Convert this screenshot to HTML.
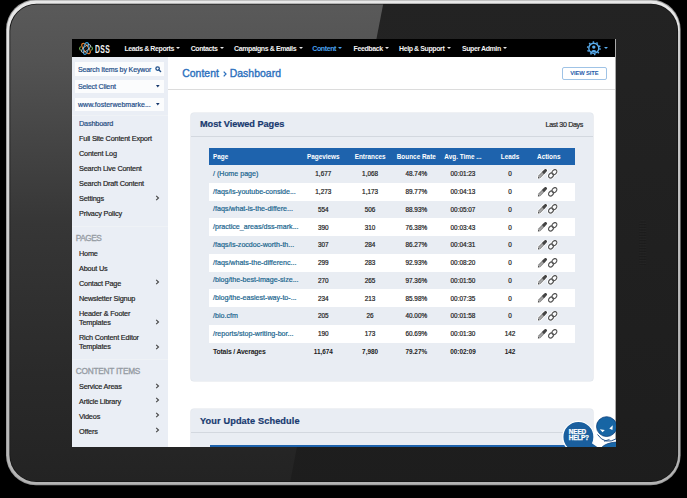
<!DOCTYPE html>
<html><head><meta charset="utf-8">
<style>
*{margin:0;padding:0;box-sizing:border-box}
html,body{width:687px;height:498px;overflow:hidden;background:#000}
body{position:relative;font-family:"Liberation Sans",sans-serif}
.abs{position:absolute}
#bez{position:absolute;left:0;top:0}
#screen{position:absolute;left:72px;top:39px;width:544px;height:408px;background:#fff;overflow:hidden}
#nav{position:absolute;left:0;top:0;width:544px;height:18px;background:#000}
.nt{position:absolute;top:1px;height:18px;line-height:18px;font-size:7px;font-weight:bold;color:#f2f2f2;white-space:nowrap;letter-spacing:-0.4px}
.nt i{display:inline-block;vertical-align:top;margin-top:7.2px;margin-left:2.4px;width:0;height:0;border-left:2px solid transparent;border-right:2px solid transparent;border-top:2.6px solid #e6e6e6}
.car{position:absolute;width:0;height:0;border-left:1.6px solid transparent;border-right:1.6px solid transparent;border-top:2px solid #ddd}
#side{position:absolute;left:0;top:18px;width:96px;height:390px;background:#eaeef5}
.box{position:absolute;left:3px;width:88.6px;background:#fbfcfd}
.bt{position:absolute;left:3px;top:0.5px;font-size:7px;font-weight:normal;color:#1f4f8a;white-space:nowrap;letter-spacing:-0.12px;-webkit-text-stroke:0.2px #1f4f8a}
.tri{position:absolute;width:0;height:0;border-left:1.7px solid transparent;border-right:1.7px solid transparent;border-top:2.5px solid #14366b}
.si{position:absolute;left:7px;font-size:7.3px;font-weight:normal;color:#222;white-space:nowrap;line-height:8px;letter-spacing:-0.18px;-webkit-text-stroke:0.18px #222;margin-top:0.5px}
.sh{position:absolute;left:3.8px;font-size:8.3px;font-weight:normal;color:#959ba3;white-space:nowrap;line-height:9px;letter-spacing:-0.5px;-webkit-text-stroke:0.3px #959ba3}
.chev{position:absolute;left:83.4px}
.sep{position:absolute;left:0;width:96px;height:1px;background:#eff2f6}
#hdr{position:absolute;left:96px;top:18px;width:447px;height:33px;background:#fff;border-bottom:1px solid #dcdcdc}
.panel{position:absolute;left:119px;width:402px;background:#e9edf3;border-radius:3px;box-shadow:0 0 0 0.6px #dfe3e9}
.ph{position:absolute;left:9px;font-size:9.2px;font-weight:bold;color:#183a70;white-space:nowrap;line-height:10px;-webkit-text-stroke:0.2px #183a70;letter-spacing:-0.05px}
table{position:absolute;border-collapse:collapse;table-layout:fixed}
td,th{height:17.75px;padding:0;font-size:6.4px;white-space:nowrap;text-align:center;color:#222;overflow:hidden}
th{height:17px;color:#fff;font-weight:bold;background:#1e63ad}
td.l,th.l{text-align:left;padding-left:4px}
td.l{color:#1b668f;font-size:7.1px}
td{-webkit-text-stroke:0.2px currentColor}
tr.t td{-webkit-text-stroke:0}
tr.w td{background:#fff}
tr.t td{font-weight:bold}
.ttl{font-size:10.4px;font-weight:normal;color:#2a6fbd;white-space:nowrap;line-height:13px;letter-spacing:0.05px;-webkit-text-stroke:0.35px #2a6fbd}
</style></head><body>
<svg id="bez" width="687" height="498" viewBox="0 0 687 498">
  <defs>
    <linearGradient id="glare" x1="0" y1="0" x2="0" y2="1">
      <stop offset="0" stop-color="#5a5a5a"/>
      <stop offset="0.12" stop-color="#535353"/>
      <stop offset="0.45" stop-color="#363636"/>
      <stop offset="0.75" stop-color="#2a2a2a"/>
      <stop offset="1" stop-color="#222"/>
    </linearGradient>
    <linearGradient id="dark" x1="0" y1="0" x2="0" y2="1">
      <stop offset="0" stop-color="#232323"/>
      <stop offset="1" stop-color="#1d1d1d"/>
    </linearGradient>
    <linearGradient id="rim" x1="0" y1="0" x2="0" y2="1"><stop offset="0" stop-color="#e8e8e8"/><stop offset="0.5" stop-color="#cdcdcd"/><stop offset="1" stop-color="#b4b4b4"/></linearGradient>
    <clipPath id="inner"><rect x="10.3" y="4.6" width="667" height="476.6" rx="26.5"/></clipPath>
    <pattern id="dots" width="1.6" height="1.6" patternUnits="userSpaceOnUse"><rect width="1.6" height="1.6" fill="#0c0c0c"/><circle cx="0.8" cy="0.8" r="0.5" fill="#555"/></pattern>
  </defs>
  <rect x="6" y="-0.6" width="674.6" height="485.8" rx="30" fill="#9a9a9a"/>
  <rect x="6.9" y="0.6" width="672.8" height="483.6" rx="29" fill="url(#rim)"/>
  <rect x="9.4" y="3.7" width="668.7" height="478.3" rx="27.2" fill="#141414"/>
  <g clip-path="url(#inner)">
    <rect x="0" y="0" width="687" height="498" fill="url(#dark)"/>
    <polygon points="0,0 384,0 287,498 0,498" fill="url(#glare)"/>
  </g>
  <rect x="639.2" y="220" width="7" height="46.4" rx="3.5" fill="url(#dots)"/>
</svg>
<svg width="0" height="0" style="position:absolute">
  <defs>
    <symbol id="ic" viewBox="0 0 22 10">
      <g stroke="#fff" stroke-opacity="0.85" fill="none" stroke-linecap="round">
        <path d="M1.4 9 L8.6 1.4" stroke-width="4.8"/>
        <path d="M13.6 6.8 L17.6 2.8" stroke-width="7"/>
      </g>
      <path d="M2 8.2 L7.4 2.6" stroke="#a6a6a6" stroke-width="3.2"/>
      <path d="M2.9 8.9 L7.6 4.1 M1.3 7.4 L6 2.6" stroke="#666" stroke-width="0.5"/>
      <path d="M6.9 3.1 L8.5 1.5" stroke="#444" stroke-width="3" stroke-linecap="round"/>
      <path d="M0.9 9.6 L1.2 7.6 L2.9 9.3 Z" fill="#444"/>
      <ellipse cx="14" cy="6.5" rx="2.7" ry="2.1" transform="rotate(-45 14 6.5)" fill="none" stroke="#555" stroke-width="1.2"/>
      <ellipse cx="17.4" cy="3.1" rx="2.7" ry="2.1" transform="rotate(-45 17.4 3.1)" fill="none" stroke="#555" stroke-width="1.2"/>
    </symbol>
  </defs>
</svg>

<div id="screen">
  <div id="nav">
    <svg class="abs" style="left:6.5px;top:3px" width="14" height="13" viewBox="0 0 14 13">
      <path d="M1.6 4.4 L0.4 6.5 L1.6 8.6" fill="none" stroke="#6aa84f" stroke-width="1.1"/>
      <path d="M12.4 4.4 L13.6 6.5 L12.4 8.6" fill="none" stroke="#6aa84f" stroke-width="1.1"/>
      <ellipse cx="7" cy="6.5" rx="6" ry="2.5" fill="none" stroke="#e07a2a" stroke-width="1.3" transform="rotate(52 7 6.5)"/>
      <ellipse cx="7" cy="6.5" rx="6" ry="2.4" fill="none" stroke="#3a9bd8" stroke-width="1.1" transform="rotate(-78 7 6.5)"/>
      <ellipse cx="7" cy="6.5" rx="5.6" ry="2.2" fill="none" stroke="#c4d2dc" stroke-width="0.8" transform="rotate(-38 7 6.5)"/>
      <circle cx="7" cy="6.5" r="1.2" fill="#0d1b2a"/>
    </svg>
    <div class="nt" style="left:23px;font-size:11px;transform-origin:0 50%;transform:scaleX(0.62);letter-spacing:0.6px">DSS</div>
    <div class="nt" style="left:52.4px">Leads &amp; Reports<i></i></div>
    <div class="nt" style="left:118.7px">Contacts<i></i></div>
    <div class="nt" style="left:162.1px">Campaigns &amp; Emails<i></i></div>
    <div class="nt" style="left:240.3px;color:#4aa3f0">Content<i style="border-top-color:#4aa3f0"></i></div>
    <div class="nt" style="left:281.6px">Feedback<i></i></div>
    <div class="nt" style="left:327px">Help &amp; Support<i></i></div>
    <div class="nt" style="left:389.9px">Super Admin<i></i></div>
    <svg class="abs" style="left:514px;top:2.4px" width="16" height="16" viewBox="0 0 16 16">
      <circle cx="7.8" cy="7.3" r="6.2" fill="none" stroke="#5aaef0" stroke-width="1.5" stroke-dasharray="1.5 2.4"/>
      <circle cx="7.8" cy="7.3" r="5" fill="none" stroke="#5aaef0" stroke-width="1.4"/>
      <circle cx="7.8" cy="6.1" r="1.7" fill="#5aaef0"/>
      <path d="M4.9 10.4 Q7.8 7.6 10.7 10.4 Q7.8 11.6 4.9 10.4 Z" fill="#5aaef0"/>
    </svg>
    <div class="car" style="left:532px;top:8px;border-left:2px solid transparent;border-right:2px solid transparent;border-top:2.6px solid #5aaef0"></div>
  </div>
  <div class="abs" style="left:543px;top:0;width:1px;height:408px;background:#a9a9a9"></div>

  <div id="side">
    <div class="box" style="top:5px;height:13.7px"><div class="bt" style="line-height:13.7px">Search Items by Keywor</div>
      <svg class="abs" style="left:80px;top:4.3px" width="7" height="7" viewBox="0 0 7 7"><circle cx="2.6" cy="2.6" r="1.75" fill="none" stroke="#1f4f8a" stroke-width="1.25"/><path d="M3.9 3.9 L5.6 5.6" stroke="#1f4f8a" stroke-width="1.4" stroke-linecap="round"/></svg>
    </div>
    <div class="box" style="top:22.7px;height:13.3px"><div class="bt" style="line-height:13.3px">Select Client</div><svg class="abs" style="left:81.3px;top:5.3px" width="4" height="3" viewBox="0 0 4 3"><path d="M0 0 H3.6 L1.8 2.6 Z" fill="#14366b"/></svg></div>
    <div class="box" style="top:40.8px;height:13px"><div class="bt" style="line-height:13px;letter-spacing:0.02px">www.fosterwebmarke...</div><svg class="abs" style="left:81.3px;top:5.1px" width="4" height="3" viewBox="0 0 4 3"><path d="M0 0 H3.6 L1.8 2.6 Z" fill="#14366b"/></svg></div>
    <div class="sep" style="top:58px"></div>
    <div class="si" style="top:62.5px;color:#2163b8">Dashboard</div>
    <div class="si" style="top:77.5px">Full Site Content Export</div>
    <div class="si" style="top:92.5px">Content Log</div>
    <div class="si" style="top:107.5px">Search Live Content</div>
    <div class="si" style="top:122.5px">Search Draft Content</div>
    <div class="si" style="top:137.5px">Settings</div><svg class="chev" style="top:137.6px" width="5" height="6" viewBox="0 0 5 6"><path d="M1.2 0.8 L3.5 3 L1.2 5.2" fill="none" stroke="#444" stroke-width="1.1"/></svg>
    <div class="si" style="top:152.5px">Privacy Policy</div>
    <div class="sep" style="top:168.7px"></div>
    <div class="sh" style="top:177px">PAGES</div>
    <div class="si" style="top:192px">Home</div>
    <div class="si" style="top:207px">About Us</div>
    <div class="si" style="top:222px">Contact Page</div><svg class="chev" style="top:222.1px" width="5" height="6" viewBox="0 0 5 6"><path d="M1.2 0.8 L3.5 3 L1.2 5.2" fill="none" stroke="#444" stroke-width="1.1"/></svg>
    <div class="si" style="top:237px">Newsletter Signup</div>
    <div class="si" style="top:252px">Header &amp; Footer</div>
    <div class="si" style="top:261.5px">Templates</div><svg class="chev" style="top:261.6px" width="5" height="6" viewBox="0 0 5 6"><path d="M1.2 0.8 L3.5 3 L1.2 5.2" fill="none" stroke="#444" stroke-width="1.1"/></svg>
    <div class="si" style="top:276.2px">Rich Content Editor</div>
    <div class="si" style="top:285.9px">Templates</div><svg class="chev" style="top:286.5px" width="5" height="6" viewBox="0 0 5 6"><path d="M1.2 0.8 L3.5 3 L1.2 5.2" fill="none" stroke="#444" stroke-width="1.1"/></svg>
    <div class="sep" style="top:302.4px"></div>
    <div class="sh" style="top:310.2px;letter-spacing:-0.25px">CONTENT ITEMS</div>
    <div class="si" style="top:325.4px">Service Areas</div><svg class="chev" style="top:325.5px" width="5" height="6" viewBox="0 0 5 6"><path d="M1.2 0.8 L3.5 3 L1.2 5.2" fill="none" stroke="#444" stroke-width="1.1"/></svg>
    <div class="si" style="top:340.3px">Article Library</div><svg class="chev" style="top:340.4px" width="5" height="6" viewBox="0 0 5 6"><path d="M1.2 0.8 L3.5 3 L1.2 5.2" fill="none" stroke="#444" stroke-width="1.1"/></svg>
    <div class="si" style="top:355.2px">Videos</div><svg class="chev" style="top:355.3px" width="5" height="6" viewBox="0 0 5 6"><path d="M1.2 0.8 L3.5 3 L1.2 5.2" fill="none" stroke="#444" stroke-width="1.1"/></svg>
    <div class="si" style="top:370.2px">Offers</div><svg class="chev" style="top:370.3px" width="5" height="6" viewBox="0 0 5 6"><path d="M1.2 0.8 L3.5 3 L1.2 5.2" fill="none" stroke="#444" stroke-width="1.1"/></svg>
  </div>

  <div id="hdr"></div>
  <div class="abs ttl" style="left:110.2px;top:28px">Content</div><svg class="abs" style="left:151px;top:31.6px" width="4" height="6" viewBox="0 0 4 6"><path d="M0.7 0.6 L3 3 L0.7 5.4" fill="none" stroke="#2a6fbd" stroke-width="1.25"/></svg><div class="abs ttl" style="left:157.7px;top:28px">Dashboard</div>
  <div class="abs" style="left:490px;top:28px;width:44.8px;height:13.2px;border:1px solid #9fc3e6;border-radius:2px;font-size:5.8px;font-weight:bold;color:#1d5aa8;text-align:center;line-height:11.4px;letter-spacing:-0.12px">VIEW SITE</div>

  <div class="panel" style="top:74.2px;height:268.2px">
    <div class="abs" style="left:0;top:22.8px;width:402px;height:1px;background:#d3d8df"></div>
    <div class="ph" style="top:6.3px">Most Viewed Pages</div>
    <div class="abs" style="left:354.5px;top:7.6px;font-size:7.1px;font-weight:normal;color:#2a2a2a;white-space:nowrap;letter-spacing:-0.32px;-webkit-text-stroke:0.2px #2a2a2a">Last 30 Days</div>
  </div>
  <table style="left:137px;top:109.1px;width:365.5px">
    <colgroup><col style="width:91px"><col style="width:46.6px"><col style="width:47px"><col style="width:45.4px"><col style="width:48px"><col style="width:46px"><col style="width:41.5px"></colgroup>
    <tr><th class="l">Page</th><th>Pageviews</th><th>Entrances</th><th>Bounce Rate</th><th>Avg. Time ...</th><th>Leads</th><th style="padding-right:10px">Actions</th></tr>
    <tr><td class="l">/ (Home page)</td><td>1,677</td><td>1,068</td><td>48.74%</td><td>00:01:23</td><td>0</td><td class="ic"><svg width="22" height="10" style="display:block;margin-left:4px"><use href="#ic"/></svg></td></tr>
    <tr class="w"><td class="l">/faqs/is-youtube-conside...</td><td>1,273</td><td>1,173</td><td>89.77%</td><td>00:04:13</td><td>0</td><td class="ic"><svg width="22" height="10" style="display:block;margin-left:4px"><use href="#ic"/></svg></td></tr>
    <tr><td class="l">/faqs/what-is-the-differe...</td><td>554</td><td>506</td><td>88.93%</td><td>00:05:07</td><td>0</td><td class="ic"><svg width="22" height="10" style="display:block;margin-left:4px"><use href="#ic"/></svg></td></tr>
    <tr class="w"><td class="l">/practice_areas/dss-mark...</td><td>390</td><td>310</td><td>76.38%</td><td>00:03:43</td><td>0</td><td class="ic"><svg width="22" height="10" style="display:block;margin-left:4px"><use href="#ic"/></svg></td></tr>
    <tr><td class="l">/faqs/is-zocdoc-worth-th...</td><td>307</td><td>284</td><td>86.27%</td><td>00:04:31</td><td>0</td><td class="ic"><svg width="22" height="10" style="display:block;margin-left:4px"><use href="#ic"/></svg></td></tr>
    <tr class="w"><td class="l">/faqs/whats-the-differenc...</td><td>299</td><td>283</td><td>92.93%</td><td>00:08:20</td><td>0</td><td class="ic"><svg width="22" height="10" style="display:block;margin-left:4px"><use href="#ic"/></svg></td></tr>
    <tr><td class="l">/blog/the-best-image-size...</td><td>270</td><td>265</td><td>97.36%</td><td>00:01:50</td><td>0</td><td class="ic"><svg width="22" height="10" style="display:block;margin-left:4px"><use href="#ic"/></svg></td></tr>
    <tr class="w"><td class="l">/blog/the-easiest-way-to-...</td><td>234</td><td>213</td><td>85.98%</td><td>00:07:35</td><td>0</td><td class="ic"><svg width="22" height="10" style="display:block;margin-left:4px"><use href="#ic"/></svg></td></tr>
    <tr><td class="l">/bio.cfm</td><td>205</td><td>26</td><td>40.00%</td><td>00:01:58</td><td>0</td><td class="ic"><svg width="22" height="10" style="display:block;margin-left:4px"><use href="#ic"/></svg></td></tr>
    <tr class="w"><td class="l">/reports/stop-writing-bor...</td><td>190</td><td>173</td><td>60.69%</td><td>00:01:30</td><td>142</td><td class="ic"><svg width="22" height="10" style="display:block;margin-left:4px"><use href="#ic"/></svg></td></tr>
    <tr class="t"><td class="l" style="color:#1e1e1e;letter-spacing:-0.2px;font-size:6.9px">Totals / Averages</td><td>11,674</td><td>7,980</td><td>79.27%</td><td>00:02:09</td><td>142</td><td></td></tr>
  </table>

  <div class="panel" style="top:370.3px;height:60px">
    <div class="abs" style="left:0;top:22.7px;width:402px;height:1px;background:#d3d8df"></div>
    <div class="ph" style="top:6.6px;letter-spacing:0.12px">Your Update Schedule</div>
  </div>
  <div class="abs" style="left:137.5px;top:405.6px;width:365px;height:10px;background:#1e63ad"></div>
  <svg class="abs" style="left:480px;top:368px" width="64" height="40" viewBox="552 407 64 40">
    <path d="M587 438 L599.5 448 L583 448 Z" fill="#fff"/>
    <circle cx="578.4" cy="436.9" r="15.6" fill="#1a5f9e" stroke="#fff" stroke-width="1.3"/>
    <path d="M586.5 439.5 L598 447.5 L584 447.5 Z" fill="#1a5f9e"/>
    <text x="568.8" y="433.9" font-family="Liberation Sans" font-weight="bold" font-size="6.4" fill="#fff" stroke="#fff" stroke-width="0.25" textLength="17.4" lengthAdjust="spacing">NEED</text>
    <text x="568.8" y="440.3" font-family="Liberation Sans" font-weight="bold" font-size="6.4" fill="#fff" stroke="#fff" stroke-width="0.25" textLength="20.2" lengthAdjust="spacing">HELP?</text>
    <path d="M597 434 Q605 446 617 438 L617 448 L600 448 Q599 440 597 434 Z" fill="#fff"/>
    <path d="M601 448 Q606 442.5 617 442 L617 448 Z" fill="#1a67a8" stroke="#0d3f7a" stroke-width="0.7"/>
    <path d="M597.5 434.5 Q605 445.5 617 438.5" fill="none" stroke="#0d3f7a" stroke-width="0.9"/>
    <ellipse cx="606.6" cy="426.6" rx="10.1" ry="9.9" fill="#1765a4" stroke="#0d3f7a" stroke-width="0.8"/>
    <path d="M599.8 429.3 L604.8 430 L602.6 432.2 Z" fill="#fff"/>
    <path d="M609.3 428.6 L612.8 425.3 L612.4 429.9 Z" fill="#fff"/>
    <path d="M604 441.3 L609.5 439.4" stroke="#0d3f7a" stroke-width="0.8"/>
  </svg>
</div>
</body></html>
